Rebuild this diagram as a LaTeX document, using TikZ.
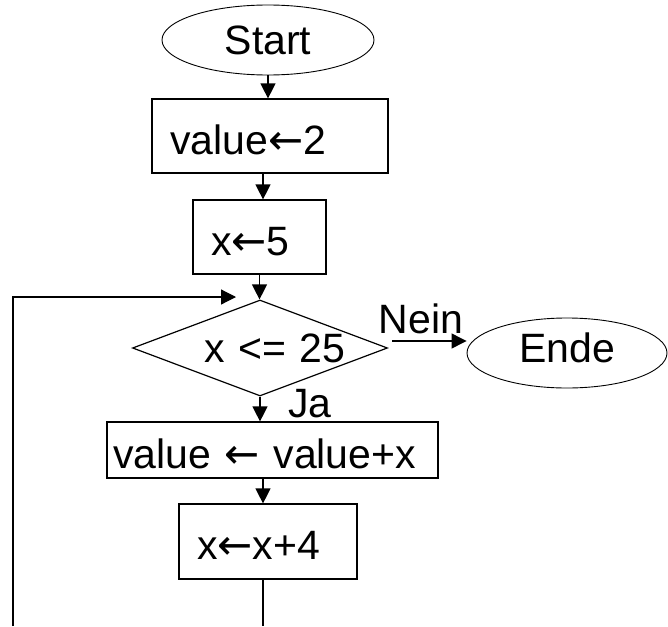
\documentclass[tikz,border=0pt]{standalone}
\usepackage{fontspec}
\setmainfont{Liberation Sans}
\newfontfamily\arrowfont{DejaVu Sans}
\newcommand\getsarrow{{\arrowfont\fontsize{42}{42}\selectfont ←}}
\usetikzlibrary{shapes.geometric,arrows.meta}

\begin{document}
\begin{tikzpicture}[x=1pt,y=1pt,yscale=-1,
  flow/.style={line width=1.2pt,-{Triangle[length=15pt,width=15pt]}},
  link/.style={line width=1.2pt},
  terminal/.style={draw,ellipse,line width=0.9pt,inner sep=0pt,font=\fontsize{41}{48}\selectfont},
  opbox/.style={draw,rectangle,line width=1.2pt,align=left,inner ysep=0pt,text height=36pt,text depth=0pt,font=\fontsize{41}{48}\selectfont},
  decision/.style={draw,diamond,aspect=2.66,line width=1.2pt,inner sep=0pt,align=right,font=\fontsize{41}{48}\selectfont},
  tag/.style={inner sep=0pt,font=\fontsize{41}{48}\selectfont}]
\useasboundingbox (0,0) rectangle (668,626);

%Ellipse [start]
\node[terminal,minimum width=212pt,minimum height=70pt] (start) at (268,40) {Start};
%Rect [value <- 2]
\node[opbox,minimum width=236pt,minimum height=74pt,text width=200pt,inner xsep=18pt] (setv) at (270,136) {value\getsarrow 2};
%Rect [x <- 5]
\node[opbox,minimum width=133pt,minimum height=74pt,text width=97pt,inner xsep=18pt] (setx) at (259.5,237) {x\getsarrow 5};
%Diamond [test]
\node[decision,minimum width=255pt,minimum height=96pt,text width=171pt] (cond) at (260,348) {x <= 25};
%Ellipse [end]
\node[terminal,minimum width=200pt,minimum height=70pt,text depth=11pt] (ende) at (567,353) {Ende};
%Rect [value <- value+x]
\node[opbox,minimum width=331pt,minimum height=56pt,text width=319pt,inner xsep=6pt] (addv) at (272.5,450) {value \getsarrow{} value+x};
%Rect [x <- x+4]
\node[opbox,minimum width=178pt,minimum height=75pt,text width=142pt,inner xsep=18pt] (incx) at (268,541.5) {x\getsarrow x+4};

% loop points
\coordinate (back-r) at (263,626);
\coordinate (back-l) at (13,626);
\coordinate (merge) at (236,297);
\coordinate (no-from) at ([shift={(4,-7)}]cond.east);

%Straight Lines
\draw[flow] (start.south) -- (start.south |- setv.north);
\draw[flow] (setv.south -| back-r) -- (setx.north -| back-r);
\draw[flow] (setx.south) -- (setx.south |- cond.north);
\draw[flow] (cond.south) -- (cond.south |- addv.north);
\draw[flow] (addv.south -| back-r) -- (incx.north -| back-r);
\draw[link] (incx.south -| back-r) -- (back-r);
\draw[flow] (back-l) |- (merge);
\draw[flow] (no-from) -- (no-from -| ende.west);

% Text Node
\node[tag,anchor=base] (nein) at (421,333) {Nein};
% Text Node
\node[tag,anchor=base] (ja) at (310,417) {Ja};

\end{tikzpicture}
\end{document}
